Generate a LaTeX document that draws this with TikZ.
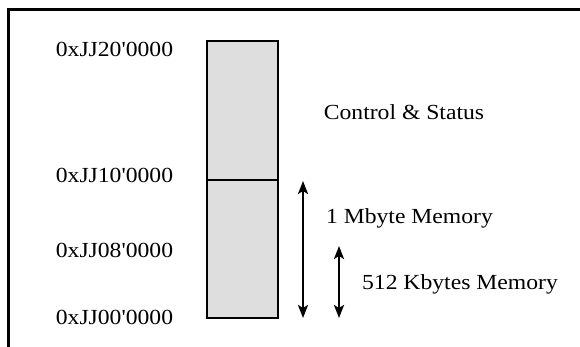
\documentclass[tikz,border=0pt]{standalone}
\usepackage{fontspec}
\newfontfamily\diagfont{Liberation Serif}[FakeStretch=1.1]
\usetikzlibrary{arrows.meta}
\definecolor{blockgray}{HTML}{DEDEDE}
\tikzset{
  lbl/.style={font=\diagfont\fontsize{21.5}{25}\selectfont, inner sep=0pt, anchor=base},
  memblock/.style={draw=black, line width=2.4pt, fill=blockgray, minimum width=71pt, inner sep=0pt},
  span/.style={line width=2.4pt, {Stealth[length=13pt,width=10pt,inset=3pt]}-{Stealth[length=13pt,width=10pt,inset=3pt]}},
  frame/.style={line width=3pt}
}
\begin{document}
\begin{tikzpicture}[x=1pt,y=-1pt]
\useasboundingbox (0,0) rectangle (580,347);
% outer frame (cropped)
\coordinate (fbl) at (8,348);
\coordinate (ftl) at (8,10);
\coordinate (ftr) at (581,10);
\draw[frame] (fbl) -- (ftl) -- (ftr);
% memory blocks
\node[memblock, minimum height=139pt] (cs) at (242.5,110.5) {};
\node[memblock, minimum height=138pt] (mem) at (242.5,249) {};
% address labels
\node[lbl] (a20) at (114.5,57) {0xJJ20'0000};
\node[lbl] (a10) at (114.5,183) {0xJJ10'0000};
\node[lbl] (a08) at (114.5,257) {0xJJ08'0000};
\node[lbl] (a00) at (114.5,324) {0xJJ00'0000};
% region labels
\node[lbl] (lcs) at (404,120) {Control \& Status};
\node[lbl] (l1m) at (409.5,223) {1 Mbyte Memory};
\node[lbl] (l512) at (460,289) {512 Kbytes Memory};
% span arrows
\coordinate (b1) at (303,181);
\coordinate (b2) at (303,318);
\coordinate (s1) at (339,246);
\coordinate (s2) at (339,318);
\draw[span] (b1) -- (b2);
\draw[span] (s1) -- (s2);
\end{tikzpicture}
\end{document}
